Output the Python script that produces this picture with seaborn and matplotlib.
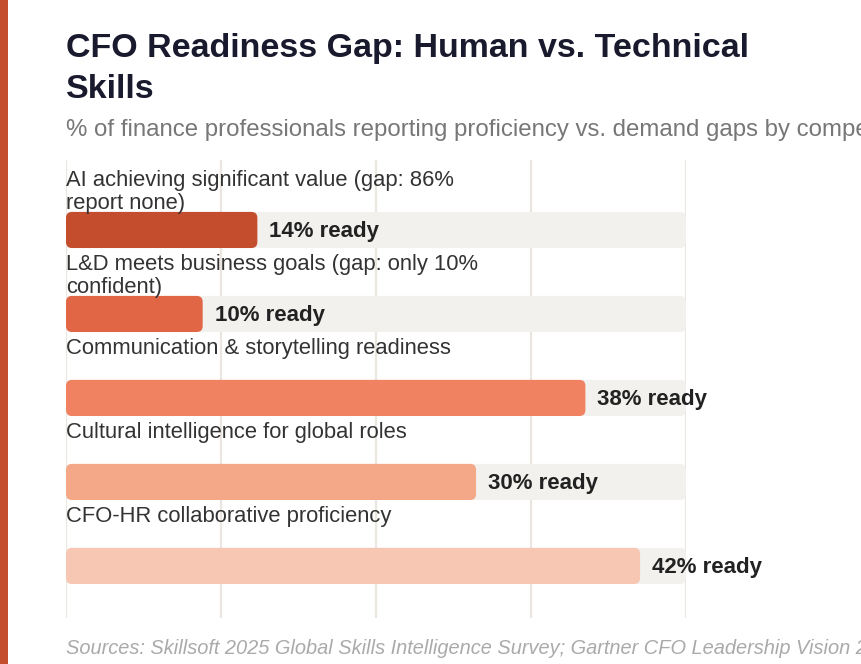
import matplotlib
matplotlib.use("Agg")
import matplotlib.pyplot as plt
from matplotlib.patches import FancyBboxPatch, Rectangle
import seaborn as sns
import pandas as pd

# --- data ---
skills = [
    "AI achieving significant value (gap: 86%\nreport none)",
    "L&D meets business goals (gap: only 10%\nconfident)",
    "Communication & storytelling readiness",
    "Cultural intelligence for global roles",
    "CFO-HR collaborative proficiency",
]
ready_pct = [14, 10, 38, 30, 42]
bar_colors = ["#c44d2e", "#e06646", "#f08262", "#f4a888", "#f8c7b4"]

title = "CFO Readiness Gap: Human vs. Technical\nSkills"
subtitle = "% of finance professionals reporting proficiency vs. demand gaps by competency"
source = "Sources: Skillsoft 2025 Global Skills Intelligence Survey; Gartner CFO Leadership Vision 2025"

xmax = max(ready_pct) * 1.08
df = pd.DataFrame({"skill": skills, "ready": ready_pct, "track": [xmax] * len(skills)})

sns.set_style("white")
plt.rcParams["font.family"] = ["Liberation Sans", "DejaVu Sans"]

W, H = 862, 664
fig = plt.figure(figsize=(W / 100, H / 100), dpi=100)
ax = fig.add_axes([66 / W, 1 - 618 / H, 620 / W, 458 / H])

# background tracks, then value bars
sns.barplot(data=df, x="track", y="skill", color="#f2f1ee", saturation=1,
            width=0.43, ax=ax, zorder=2)
sns.barplot(data=df, x="ready", y="skill", hue="skill", palette=bar_colors,
            saturation=1, legend=False, width=0.43, ax=ax, zorder=3)

ax.set_xlim(0, xmax)
ax.set_ylim(4.62, -0.833)

# swap the square bars for rounded ones
x_per_px = xmax / 620
y_per_px = (4.62 + 0.833) / 458
for p in list(ax.patches):
    x0, y0, w, h = p.get_x(), p.get_y(), p.get_width(), p.get_height()
    fc, z = p.get_facecolor(), p.get_zorder()
    p.remove()
    ax.add_patch(FancyBboxPatch((x0, y0), w, h,
                                boxstyle=f"round,pad=0,rounding_size={6 * x_per_px}",
                                mutation_aspect=y_per_px / x_per_px,
                                facecolor=fc, edgecolor="none", zorder=z))

# grid
for gx in [xmax * i / 4 for i in range(5)]:
    ax.axvline(gx, color="#ebe7e0", lw=1.6, zorder=1)

for i, (lab, v) in enumerate(zip(skills, ready_pct)):
    ax.text(0, i - 60 * y_per_px, lab, ha="left", va="top", fontsize=15.8,
            color="#333333", linespacing=1.1, zorder=4)
    ax.text(v + 12 * x_per_px, i + 2 * y_per_px, f"{v}% ready", ha="left",
            va="center", fontsize=16, fontweight="bold", color="#222222", zorder=4)

ax.set_xticks([])
ax.set_yticks([])
ax.set_xlabel("")
ax.set_ylabel("")
for s in ax.spines.values():
    s.set_visible(False)

# left accent stripe
fig.patches.append(Rectangle((0, 0), 8 / W, 1, transform=fig.transFigure,
                             facecolor="#c44d2e", edgecolor="none"))

fig.text(66 / W, 1 - 33 / H, title, ha="left", va="top", fontsize=24.5,
         fontweight="bold", color="#1a1a2e", linespacing=1.42)
fig.text(66 / W, 1 - 130 / H, subtitle, ha="left", va="center", fontsize=17.3,
         color="#777777")
fig.text(66 / W, 1 - 649 / H, source, ha="left", va="center", fontsize=14.4,
         style="italic", color="#aaaaaa")

fig.savefig("out.png", dpi=100)
